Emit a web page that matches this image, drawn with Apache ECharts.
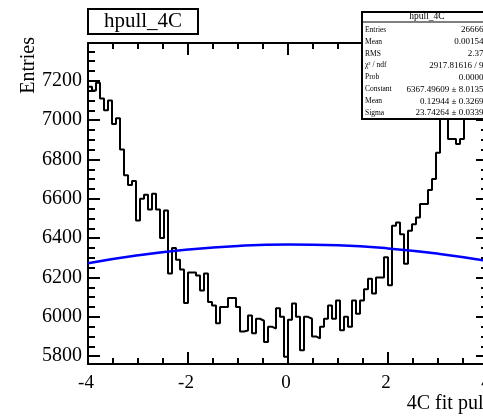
<!DOCTYPE html>
<html><head><meta charset="utf-8">
<script src="https://cdn.jsdelivr.net/npm/echarts@6/dist/echarts.min.js"></script>
<style>html,body{margin:0;padding:0;background:#fff}#c{width:483px;height:416px}</style>
</head><body><div id="c"></div>
<script>
// ---- data ----
const xMin = -4, xMax = 4;
const counts = [
  7170, 7150, 7190, 7110, 7050, 7100, 6980, 7010, 6850, 6720,
  6670, 6690, 6490, 6600, 6620, 6545, 6625, 6545, 6400, 6540,
  6220, 6350, 6290, 6240, 6070, 6225, 6225, 6210, 6134, 6220,
  6075, 6058, 5967, 6050, 6050, 6095, 6095, 6050, 5925, 5930,
  6007, 5916, 5990, 5980, 5872, 5950, 5940, 6043, 6000, 5797,
  5985, 6068, 6000, 5830, 6000, 5990, 5900, 5890, 5950, 5990,
  6058, 5990, 6083, 5932, 6000, 5950, 6083, 6016, 6083, 6140,
  6194, 6118, 6200, 6200, 6303, 6160, 6463, 6480, 6420, 6270,
  6438, 6470, 6505, 6574, 6574, 6645, 6700, 6834, 7005, 7100,
  6904, 6904, 6878, 6904, 7050, 7080, 7120, 7100, 7160, 7180
];
const fitX = [-4, -3, -2, -1, 0, 1, 2, 3, 4];
const fitY = [6271.9, 6312.4, 6341.9, 6360.3, 6367.4, 6363.2, 6347.8, 6321.1, 6283.4];
const xMajor = [-4, -2, 0, 2, 4];
const yMajor = [5800, 6000, 6200, 6400, 6600, 6800, 7000, 7200];
const yMinor = [5800, 5850, 5900, 5950, 6000, 6050, 6100, 6150, 6200, 6250, 6300, 6350,
  6400, 6450, 6500, 6550, 6600, 6650, 6700, 6750, 6800, 6850, 6900, 6950, 7000, 7050,
  7100, 7150, 7200, 7250, 7300, 7350];
const yMin = 5760, yMax = 7392;
const titleText = 'hpull_4C';
const xTitle = '4C fit pull';
const yTitle = 'Entries';
const statsNames = ['Entries', 'Mean', 'RMS', 'χ² / ndf', 'Prob', 'Constant', 'Mean', 'Sigma'];
const statsVals = ['266666', '0.001548', '2.371', '2917.81616 / 97', '0.00000',
  '6367.49609 ± 8.01355', '0.12944 ± 0.32695', '23.74264 ± 0.03397'];

// ---- build ----
const nBins = counts.length;
const bw = (xMax - xMin) / nBins;
const histPts = counts.map((v, i) => [xMin + i * bw, v]);
histPts.push([xMax, counts[nBins - 1]]);
const fitPts = fitX.map((x, i) => [x, fitY[i]]);

const FONT = "'Liberation Serif','DejaVu Serif',serif";
const black = '#000';

function xAx(pos, labels) {
  return {
    type: 'value', position: pos, min: xMin, max: xMax, interval: 2,
    axisLine: { show: true, onZero: false, lineStyle: { color: black, width: 2 } },
    axisTick: { show: true, inside: true, length: 12, lineStyle: { color: black, width: 2 } },
    minorTick: { show: true, splitNumber: 4, length: 6, lineStyle: { color: black, width: 2 } },
    axisLabel: { show: labels, color: black, fontFamily: FONT, fontSize: 19, margin: 10,
      padding: [0, 4, 0, 0], showMaxLabel: true, hideOverlap: false,
      customValues: xMajor, formatter: v => String(v) },
    splitLine: { show: false }, minorSplitLine: { show: false }
  };
}
function yAx(pos, vals, len, labels, line) {
  return {
    type: 'value', position: pos, min: yMin, max: yMax,
    axisLine: { show: line, onZero: false, lineStyle: { color: black, width: 2 } },
    axisTick: { show: true, inside: true, length: len, customValues: vals,
      lineStyle: { color: black, width: 2 } },
    axisLabel: { show: labels, color: black, fontFamily: FONT, fontSize: 20, margin: 6,
      customValues: yMajor, formatter: v => String(v) },
    splitLine: { show: false }
  };
}

const statsGraphics = [];
statsGraphics.push({ type: 'rect', shape: { x: 362, y: 12, width: 130, height: 107 },
  style: { fill: '#fff', stroke: black, lineWidth: 2 }, z: 100 });
statsGraphics.push({ type: 'line', shape: { x1: 362, y1: 22, x2: 492, y2: 22 },
  style: { stroke: black, lineWidth: 1 }, z: 101 });
statsGraphics.push({ type: 'text', x: 427, y: 16.5, z: 102,
  style: { text: titleText, font: '9.5px ' + FONT, fill: black, align: 'center', verticalAlign: 'middle' } });
statsNames.forEach((n, i) => {
  const y = 29.8 + 11.9 * i;
  statsGraphics.push({ type: 'text', x: 365, y: y, z: 102,
    style: { text: n, font: '7.5px ' + FONT, fill: black, align: 'left', verticalAlign: 'middle' } });
  statsGraphics.push({ type: 'text', x: 488, y: y, z: 102,
    style: { text: statsVals[i], font: '9px ' + FONT, fill: black, align: 'right', verticalAlign: 'middle' } });
});

const chart = echarts.init(document.getElementById('c'), null, { renderer: 'canvas' });
chart.setOption({
  animation: false,
  backgroundColor: '#fff',
  grid: { left: 88, width: 400, top: 43, height: 321, containLabel: false, outerBoundsMode: 'none' },
  xAxis: [xAx('bottom', true), xAx('top', false)],
  yAxis: [
    yAx('left', yMajor, 12, true, true),
    yAx('left', yMinor, 7, false, false),
    yAx('right', yMajor, 12, false, true),
    yAx('right', yMinor, 7, false, false)
  ],
  series: [
    { type: 'line', name: 'hpull_4C', data: histPts, step: 'end', xAxisIndex: 0, yAxisIndex: 0,
      showSymbol: false, lineStyle: { color: black, width: 2 }, z: 3 },
    { type: 'line', name: 'gaus', data: fitPts, smooth: true, xAxisIndex: 0, yAxisIndex: 0,
      showSymbol: false, lineStyle: { color: '#0000ff', width: 2.5 }, z: 4 }
  ],
  graphic: [
    { type: 'rect', shape: { x: 88, y: 9, width: 110, height: 25 },
      style: { fill: '#fff', stroke: black, lineWidth: 2 }, z: 100 },
    { type: 'text', x: 143, y: 21.5, z: 101,
      style: { text: titleText, font: '21px ' + FONT, fill: black, align: 'center', verticalAlign: 'middle' } },
    { type: 'text', x: 489, y: 404, z: 101,
      style: { text: xTitle, font: '20px ' + FONT, fill: black, align: 'right', verticalAlign: 'middle' } },
    { type: 'text', x: 29, y: 37, rotation: Math.PI / 2, z: 101,
      style: { text: yTitle, font: '20px ' + FONT, fill: black, align: 'right', verticalAlign: 'middle' } }
  ].concat(statsGraphics)
});
</script>
</body></html>
